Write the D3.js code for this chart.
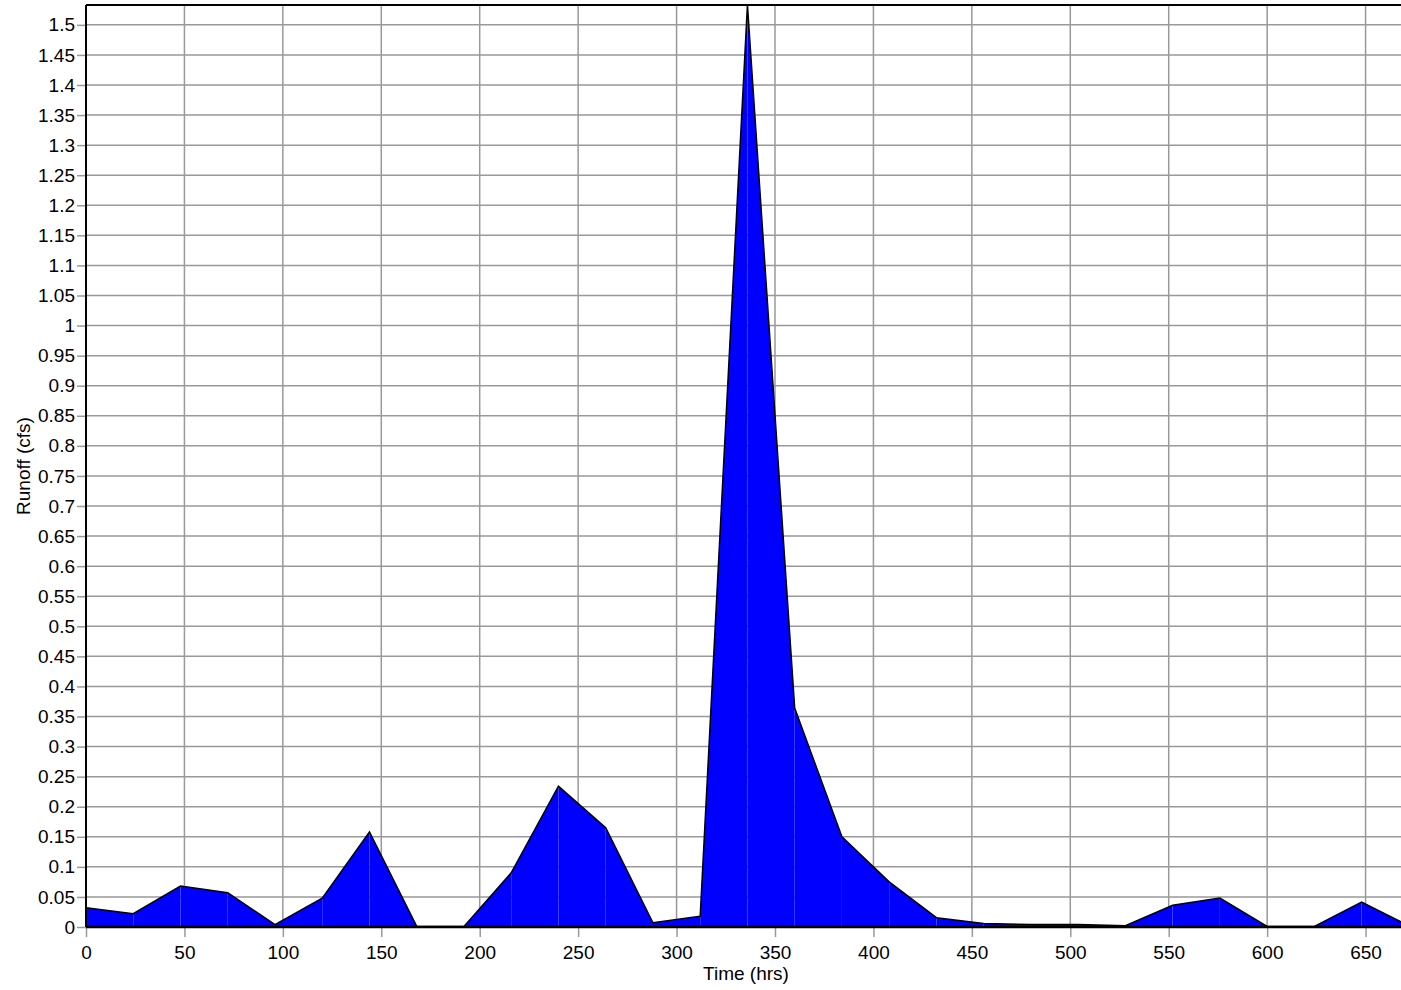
<!DOCTYPE html>
<html>
<head>
<meta charset="utf-8">
<script src="https://cdn.jsdelivr.net/npm/d3@7"></script>
<style>
  body { margin: 0; background: #fff; }
  svg { display: block; font-family: "Liberation Sans", Arial, sans-serif; }
</style>
</head>
<body>
<svg id="chart" width="1401" height="990"></svg>
<script>
// time (hrs) and runoff (cfs)
var hours = [0, 24, 48, 72, 96, 120, 144, 168, 192, 216, 240, 264, 288, 312, 336,
             360, 384, 408, 432, 456, 480, 504, 528, 552, 576, 600, 624, 648, 672];
var runoff = [0.032, 0.022, 0.068, 0.057, 0.004, 0.048, 0.158, 0.001, 0.001, 0.09, 0.234, 0.165, 0.007, 0.018, 1.533,
              0.364, 0.15, 0.075, 0.0155, 0.006, 0.004, 0.004, 0.002, 0.036, 0.048, 0.001, 0.001, 0.0416, 0.002];
var xTicks = d3.range(0, 651, 50);
var yTicks = d3.range(0, 31).map(function (i) { return +(i * 0.05).toFixed(2); });

var svg = d3.select("#chart"),
    width = +svg.attr("width"),
    height = +svg.attr("height"),
    margin = {top: 5, right: 0, bottom: 63, left: 86};

var x = d3.scaleLinear().domain([0, 668]).range([margin.left, width - margin.right]);
var y = d3.scaleLinear().domain([0, 1.533]).range([height - margin.bottom, margin.top]);

var data = hours.map(function (h, i) { return {h: h, v: runoff[i]}; });

svg.append("clipPath").attr("id", "clip")
    .append("rect")
    .attr("x", margin.left).attr("y", margin.top - 2)
    .attr("width", width - margin.left - margin.right)
    .attr("height", height - margin.top - margin.bottom + 4);

// grid
svg.append("g").selectAll("line").data(xTicks).enter().append("line")
    .attr("x1", function (d) { return x(d); }).attr("x2", function (d) { return x(d); })
    .attr("y1", margin.top).attr("y2", height - margin.bottom)
    .attr("stroke", "#999").attr("stroke-width", 1.5);
svg.append("g").selectAll("line").data(yTicks).enter().append("line")
    .attr("x1", margin.left).attr("x2", width - margin.right)
    .attr("y1", function (d) { return y(d); }).attr("y2", function (d) { return y(d); })
    .attr("stroke", "#999").attr("stroke-width", 1.5);

// area drawn one segment at a time (faint seams like the original)
var area = d3.area()
    .x(function (d) { return x(d.h); })
    .y0(y(0))
    .y1(function (d) { return y(d.v); });
var plot = svg.append("g").attr("clip-path", "url(#clip)");
plot.selectAll("path.seg").data(d3.pairs(data)).enter().append("path")
    .attr("class", "seg")
    .attr("d", area)
    .attr("fill", "#0000ff");

var line = d3.line()
    .x(function (d) { return x(d.h); })
    .y(function (d) { return y(d.v); });
plot.append("path")
    .datum(data)
    .attr("d", line)
    .attr("fill", "none")
    .attr("stroke", "#000")
    .attr("stroke-width", 1.5);

// axes
var xAxis = svg.append("g")
    .attr("transform", "translate(0," + (height - margin.bottom) + ")")
    .call(d3.axisBottom(x).tickValues(xTicks).tickSize(10).tickPadding(9).tickFormat(d3.format("d")));
var yAxis = svg.append("g")
    .attr("transform", "translate(" + margin.left + ",0)")
    .call(d3.axisLeft(y).tickValues(yTicks).tickSize(9).tickPadding(2).tickFormat(function (d) { return String(d); }));

[xAxis, yAxis].forEach(function (a) {
    a.select(".domain").remove();
    a.selectAll(".tick line").attr("stroke", "#999").attr("stroke-width", 1.5);
    a.selectAll(".tick text").attr("fill", "#000").style("font-size", "19px")
        .style("font-family", "'Liberation Sans', Arial, sans-serif");
});

// frame
svg.append("line")
    .attr("x1", margin.left).attr("x2", width)
    .attr("y1", height - margin.bottom).attr("y2", height - margin.bottom)
    .attr("stroke", "#000").attr("stroke-width", 2.5);
svg.append("line")
    .attr("x1", margin.left).attr("x2", margin.left)
    .attr("y1", margin.top).attr("y2", height - margin.bottom)
    .attr("stroke", "#000").attr("stroke-width", 2);
svg.append("line")
    .attr("x1", margin.left).attr("x2", width)
    .attr("y1", margin.top).attr("y2", margin.top)
    .attr("stroke", "#000").attr("stroke-width", 2);

// labels
svg.append("text")
    .attr("x", 746)
    .attr("y", 980)
    .attr("text-anchor", "middle")
    .style("font-size", "19px")
    .text("Time (hrs)");
svg.append("text")
    .attr("transform", "translate(29.5," + ((margin.top + height - margin.bottom) / 2) + ") rotate(-90)")
    .attr("text-anchor", "middle")
    .style("font-size", "19px")
    .text("Runoff (cfs)");
</script>
</body>
</html>
